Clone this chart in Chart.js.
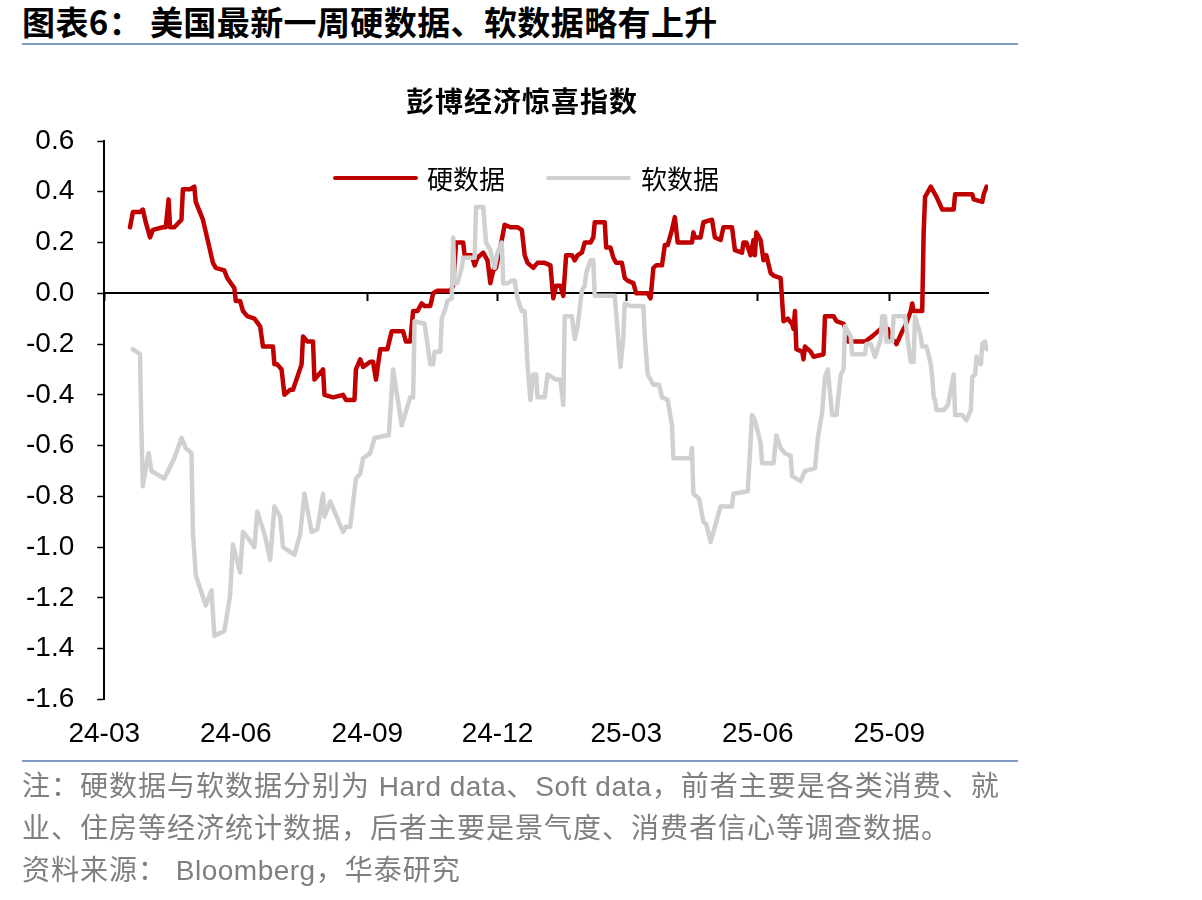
<!DOCTYPE html>
<html lang="zh-CN">
<head>
<meta charset="utf-8">
<title>彭博经济惊喜指数</title>
<script src="https://cdn.jsdelivr.net/npm/chart.js@4.4.1/dist/chart.umd.min.js"></script>
<style>
  body { margin: 0; background: #fff; width: 1202px; height: 900px; position: relative; overflow: hidden; }
  #title { position: absolute; left: 22px; top: 0; font: bold 33px "Noto Sans CJK SC", sans-serif; letter-spacing: 0.4px; line-height: 42px; color: #000; white-space: nowrap; }
  .rule { position: absolute; left: 22px; width: 996px; height: 2px; background: #7f9cc3; }
  #chartBox { position: absolute; left: 0; top: 60px; width: 1044px; height: 719px; }
  #chartTitle { position: absolute; left: 322px; width: 400px; top: 83px; text-align: center; font: bold 28px "Noto Sans CJK SC", sans-serif; letter-spacing: 1px; line-height: 34px; color: #000; }
  .legLine { position: absolute; width: 85px; height: 4px; border-radius: 2px; }
  .legText { position: absolute; font: 26px "Noto Sans CJK SC", sans-serif; line-height: 30px; color: #000; white-space: nowrap; }
  #notes { position: absolute; left: 22px; top: 766px; font: 28px "Liberation Sans", "Noto Sans CJK SC", sans-serif; letter-spacing: 1px; line-height: 42px; color: #7f7f7f; white-space: nowrap; }
  #notes span { letter-spacing: 0.5px; }
</style>
</head>
<body>
<div id="title">图表6： 美国最新一周硬数据、软数据略有上升</div>
<div class="rule" style="top:43px"></div>

<div id="chartBox"><canvas id="surpriseChart"></canvas></div>
<div id="chartTitle">彭博经济惊喜指数</div>

<!-- Legende -->
<div class="legLine" style="left:333px; top:176px; background:#c00000"></div>
<div class="legText" style="left:427px; top:163px">硬数据</div>
<div class="legLine" style="left:546px; top:176px; background:#d0d0d0"></div>
<div class="legText" style="left:641px; top:163px">软数据</div>

<div class="rule" style="top:760px"></div>
<div id="notes">
  <div>注：硬数据与软数据分别为 <span>Hard data</span>、<span>Soft data</span>，前者主要是各类消费、就</div>
  <div>业、住房等经济统计数据，后者主要是景气度、消费者信心等调查数据。</div>
  <div>资料来源： <span>Bloomberg</span>，华泰研究</div>
</div>

<script>
// Tage seit 2024-03-01
const tickDays = [0, 92, 184, 275, 365, 457, 549];
const tickLabels = ['24-03', '24-06', '24-09', '24-12', '25-03', '25-06', '25-09'];

// Hard data (硬数据)
const hardDay = [
  18, 20, 25, 27, 29, 32, 34, 41, 43, 45,
  46, 49, 54, 55, 60, 63, 64, 69, 76, 78,
  84, 86, 91, 92, 95, 97, 100, 105, 109, 111,
  118, 119, 121, 124, 126, 130, 132, 138, 139, 142,
  146, 147, 153, 154, 160, 167, 169, 175, 176, 179,
  181, 186, 188, 190, 193, 198, 201, 209, 211, 214,
  216, 219, 222, 224, 228, 230, 233, 242, 244, 246,
  251, 252, 257, 259, 261, 265, 268, 270, 272, 274,
  278, 280, 284, 289, 292, 294, 296, 300, 303, 306,
  308, 312, 314, 316, 319, 321, 323, 327, 329, 331,
  334, 336, 340, 342, 343, 350, 351, 354, 356, 358,
  362, 364, 366, 370, 372, 376, 380, 382, 384, 386,
  390, 392, 394, 397, 399, 401, 405, 406, 411, 412,
  413, 417, 419, 425, 427, 431, 433, 439, 441, 446,
  447, 449, 452, 454, 455, 456, 459, 461, 463, 466,
  468, 473, 475, 478, 481, 482, 483, 484, 488, 489,
  490, 494, 496, 503, 504, 510, 512, 517, 519, 520,
  525, 532, 537, 539, 543, 548, 550, 553, 554, 558,
  560, 564, 565, 566, 572, 573, 574, 578, 582, 586,
  594, 595, 607, 608, 614, 615, 617
];
const hardValue = [
  0.26, 0.32, 0.32, 0.33, 0.28, 0.22, 0.25, 0.26, 0.26, 0.37,
  0.26, 0.26, 0.29, 0.41, 0.41, 0.42, 0.36, 0.29, 0.12, 0.10,
  0.09, 0.06, 0.02, -0.03, -0.03, -0.07, -0.09, -0.10, -0.13, -0.21,
  -0.21, -0.28, -0.28, -0.30, -0.40, -0.38, -0.38, -0.28, -0.17, -0.19,
  -0.19, -0.34, -0.30, -0.40, -0.41, -0.40, -0.42, -0.42, -0.30, -0.26,
  -0.29, -0.27, -0.27, -0.34, -0.22, -0.22, -0.15, -0.15, -0.19, -0.19,
  -0.07, -0.07, -0.04, -0.05, -0.05, 0.00, 0.01, 0.01, 0.03, 0.20,
  0.20, 0.15, 0.15, 0.11, 0.14, 0.16, 0.13, 0.04, 0.09, 0.10,
  0.21, 0.27, 0.26, 0.26, 0.25, 0.15, 0.12, 0.10, 0.12, 0.12,
  0.12, 0.11, -0.02, 0.03, 0.03, -0.01, 0.15, 0.15, 0.13, 0.15,
  0.16, 0.20, 0.20, 0.22, 0.28, 0.28, 0.18, 0.18, 0.14, 0.12,
  0.12, 0.06, 0.05, 0.04, 0.00, 0.00, 0.00, -0.02, 0.10, 0.11,
  0.11, 0.19, 0.19, 0.25, 0.30, 0.20, 0.20, 0.20, 0.20, 0.24,
  0.22, 0.22, 0.28, 0.29, 0.22, 0.21, 0.26, 0.26, 0.17, 0.16,
  0.20, 0.20, 0.15, 0.21, 0.15, 0.24, 0.21, 0.13, 0.15, 0.08,
  0.07, 0.06, -0.11, -0.10, -0.12, -0.14, -0.07, -0.22, -0.23, -0.26,
  -0.21, -0.23, -0.25, -0.24, -0.09, -0.09, -0.11, -0.12, -0.15, -0.19,
  -0.19, -0.19, -0.17, -0.16, -0.14, -0.14, -0.18, -0.19, -0.20, -0.15,
  -0.13, -0.07, -0.04, -0.07, -0.07, 0.24, 0.38, 0.42, 0.38, 0.33,
  0.33, 0.39, 0.39, 0.37, 0.36, 0.39, 0.42
];

// Soft data (软数据)
const softDay = [
  20, 25, 26, 27, 29, 31, 33, 42, 49, 54,
  57, 61, 62, 64, 71, 75, 77, 84, 88, 90,
  95, 97, 100, 105, 107, 111, 113, 116, 119, 123,
  125, 133, 137, 140, 145, 149, 153, 154, 158, 167,
  169, 172, 176, 179, 181, 186, 189, 197, 199, 202,
  208, 214, 216, 217, 224, 228, 230, 231, 235, 236,
  238, 240, 243, 244, 245, 247, 250, 251, 259, 260,
  265, 267, 270, 273, 275, 278, 279, 282, 285, 287,
  289, 292, 294, 295, 296, 298, 300, 302, 303, 308,
  310, 316, 319, 321, 322, 327, 329, 331, 334, 336,
  337, 340, 342, 343, 357, 361, 363, 364, 368, 377,
  378, 380, 384, 388, 390, 394, 397, 398, 410, 411,
  412, 416, 418, 419, 421, 424, 426, 431, 439, 440,
  450, 453, 455, 459, 460, 468, 470, 473, 476, 480,
  481, 484, 487, 490, 497, 499, 502, 504, 506, 509,
  512, 515, 517, 518, 522, 523, 532, 533, 536, 539,
  543, 544, 546, 547, 551, 552, 560, 562, 564, 566,
  567, 571, 572, 575, 578, 579, 580, 581, 582, 587,
  590, 594, 595, 600, 603, 606, 607, 609, 610, 613,
  614, 616, 617
];
const softValue = [
  -0.22, -0.24, -0.54, -0.76, -0.69, -0.63, -0.70, -0.73, -0.65, -0.57,
  -0.61, -0.63, -0.94, -1.11, -1.23, -1.17, -1.35, -1.33, -1.19, -0.99,
  -1.10, -0.94, -0.96, -1.00, -0.86, -0.93, -0.97, -1.05, -0.84, -0.88,
  -1.00, -1.03, -0.95, -0.79, -0.94, -0.93, -0.79, -0.88, -0.82, -0.94,
  -0.92, -0.92, -0.73, -0.71, -0.65, -0.63, -0.57, -0.56, -0.56, -0.30,
  -0.52, -0.41, -0.41, -0.11, -0.12, -0.28, -0.28, -0.23, -0.23, -0.10,
  -0.07, -0.03, -0.02, 0.22, 0.04, 0.04, 0.10, 0.14, 0.14, 0.34,
  0.34, 0.20, 0.17, 0.10, 0.16, 0.20, 0.04, 0.04, 0.05, 0.05,
  -0.02, -0.07, -0.07, -0.17, -0.28, -0.42, -0.32, -0.32, -0.41, -0.41,
  -0.32, -0.34, -0.34, -0.44, -0.09, -0.09, -0.18, -0.13, 0.01, 0.03,
  0.08, 0.13, 0.13, -0.01, -0.01, -0.29, -0.17, -0.04, -0.05, -0.05,
  -0.17, -0.32, -0.36, -0.36, -0.41, -0.42, -0.52, -0.65, -0.65, -0.61,
  -0.79, -0.81, -0.87, -0.90, -0.91, -0.98, -0.94, -0.84, -0.84, -0.79,
  -0.78, -0.48, -0.50, -0.59, -0.67, -0.67, -0.56, -0.61, -0.63, -0.64,
  -0.72, -0.73, -0.74, -0.70, -0.69, -0.57, -0.47, -0.33, -0.30, -0.48,
  -0.48, -0.32, -0.30, -0.13, -0.17, -0.24, -0.24, -0.20, -0.20, -0.25,
  -0.18, -0.09, -0.09, -0.19, -0.19, -0.09, -0.09, -0.19, -0.27, -0.27,
  -0.09, -0.17, -0.21, -0.21, -0.28, -0.33, -0.41, -0.42, -0.46, -0.46,
  -0.44, -0.32, -0.48, -0.48, -0.50, -0.46, -0.33, -0.32, -0.25, -0.28,
  -0.20, -0.19, -0.22
];

const axisFont = { family: '"Liberation Sans", Arial, sans-serif', size: 28 };
const setQuarterTicks = (scale) => { scale.ticks = tickDays.map(v => ({ value: v })); };

const surpriseChart = document.querySelector('#surpriseChart');

new Chart(surpriseChart, {
  type: 'line',
  data: {
    datasets: [
      {
        label: '硬数据',
        data: hardDay.map((d, i) => ({ x: d, y: hardValue[i] })),
        borderColor: '#c00000',
        backgroundColor: '#c00000',
        borderWidth: 4.5,
        pointRadius: 0,
        borderJoinStyle: 'round',
        borderCapStyle: 'round',
        order: 2
      },
      {
        label: '软数据',
        data: softDay.map((d, i) => ({ x: d, y: softValue[i] })),
        borderColor: '#d0d0d0',
        backgroundColor: '#d0d0d0',
        borderWidth: 4.5,
        pointRadius: 0,
        borderJoinStyle: 'round',
        borderCapStyle: 'round',
        order: 1 // grau liegt oben
      }
    ]
  },
  options: {
    responsive: true,
    maintainAspectRatio: false,
    animation: false,
    layout: { padding: { left: 3, right: 56, top: 81, bottom: 10 } },
    plugins: {
      legend: { display: false },
      tooltip: { enabled: false },
      title: { display: false }
    },
    scales: {
      x: {
        type: 'linear',
        position: 'bottom',
        min: 0,
        max: 618,
        afterBuildTicks: setQuarterTicks,
        grid: { display: false, drawTicks: false },
        border: { display: false },
        ticks: {
          autoSkip: false,
          maxRotation: 0,
          padding: 18,
          color: '#000',
          font: axisFont,
          callback: (v) => tickLabels[tickDays.indexOf(v)]
        }
      },
      // Nulllinie mit Quartals-Ticks
      x2: {
        type: 'linear',
        position: { y: 0 },
        min: 0,
        max: 618,
        afterBuildTicks: setQuarterTicks,
        grid: { drawOnChartArea: false, drawTicks: true, tickLength: 7, tickColor: '#000', tickWidth: 2 },
        border: { display: true, color: '#000', width: 2 },
        ticks: { display: false }
      },
      y: {
        min: -1.6,
        max: 0.6,
        grid: { drawOnChartArea: false, tickLength: 7, tickColor: '#000', tickWidth: 1.5 },
        border: { color: '#000', width: 2 },
        ticks: {
          stepSize: 0.2,
          padding: 23,
          color: '#000',
          font: axisFont,
          callback: (v) => (Math.abs(v) < 1e-9 ? 0 : v).toFixed(1)
        }
      }
    }
  }
});
</script>
</body>
</html>
